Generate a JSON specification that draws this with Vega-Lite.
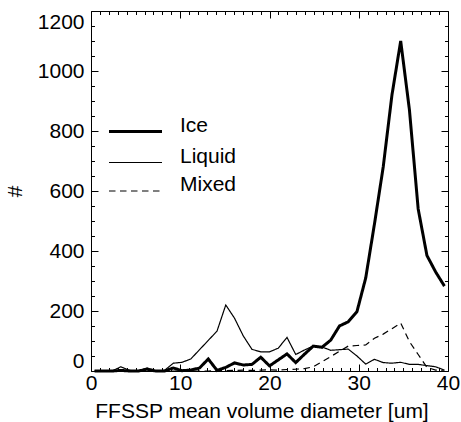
{
  "$schema": "https://vega.github.io/schema/vega-lite/v6.json",
  "width": 357,
  "height": 360,
  "autosize": {"type": "none"},
  "padding": {"left": 91, "top": 11, "right": 13, "bottom": 51},
  "background": "white",
  "config": {
    "view": {"stroke": null},
    "font": "Liberation Sans",
    "axis": {
      "grid": false,
      "domainColor": "black",
      "domainWidth": 1,
      "tickColor": "black",
      "tickWidth": 1,
      "labelColor": "black",
      "titleColor": "black",
      "labelFont": "Liberation Sans",
      "titleFont": "Liberation Sans",
      "labelFontSize": 21,
      "titleFontSize": 21,
      "titleFontWeight": "normal"
    }
  },
  "data": {
    "values": [
      {"x": 0.4, "v": 0, "type": "Ice"},
      {"x": 1.38, "v": 0, "type": "Ice"},
      {"x": 2.36, "v": 0, "type": "Ice"},
      {"x": 3.34, "v": 2, "type": "Ice"},
      {"x": 4.32, "v": 0, "type": "Ice"},
      {"x": 5.3, "v": 0, "type": "Ice"},
      {"x": 6.28, "v": 6, "type": "Ice"},
      {"x": 7.26, "v": 0, "type": "Ice"},
      {"x": 8.24, "v": 0, "type": "Ice"},
      {"x": 9.22, "v": 10, "type": "Ice"},
      {"x": 10.2, "v": 1, "type": "Ice"},
      {"x": 11.18, "v": 3, "type": "Ice"},
      {"x": 12.16, "v": 10, "type": "Ice"},
      {"x": 13.14, "v": 40, "type": "Ice"},
      {"x": 14.12, "v": 2, "type": "Ice"},
      {"x": 15.1, "v": 12, "type": "Ice"},
      {"x": 16.08, "v": 27, "type": "Ice"},
      {"x": 17.06, "v": 20, "type": "Ice"},
      {"x": 18.04, "v": 22, "type": "Ice"},
      {"x": 19.02, "v": 46, "type": "Ice"},
      {"x": 20.0, "v": 17, "type": "Ice"},
      {"x": 20.98, "v": 37, "type": "Ice"},
      {"x": 21.96, "v": 57, "type": "Ice"},
      {"x": 22.94, "v": 28, "type": "Ice"},
      {"x": 23.92, "v": 56, "type": "Ice"},
      {"x": 24.9, "v": 83, "type": "Ice"},
      {"x": 25.88, "v": 79, "type": "Ice"},
      {"x": 26.86, "v": 103, "type": "Ice"},
      {"x": 27.84, "v": 150, "type": "Ice"},
      {"x": 28.82, "v": 164, "type": "Ice"},
      {"x": 29.8, "v": 198, "type": "Ice"},
      {"x": 30.78, "v": 310, "type": "Ice"},
      {"x": 31.76, "v": 490, "type": "Ice"},
      {"x": 32.74, "v": 680, "type": "Ice"},
      {"x": 33.72, "v": 920, "type": "Ice"},
      {"x": 34.7, "v": 1100, "type": "Ice"},
      {"x": 35.68, "v": 870, "type": "Ice"},
      {"x": 36.66, "v": 540, "type": "Ice"},
      {"x": 37.64, "v": 385, "type": "Ice"},
      {"x": 38.62, "v": 330, "type": "Ice"},
      {"x": 39.6, "v": 283, "type": "Ice"},
      {"x": 0.4, "v": 0, "type": "Liquid"},
      {"x": 1.38, "v": 0, "type": "Liquid"},
      {"x": 2.36, "v": 0, "type": "Liquid"},
      {"x": 3.34, "v": 14, "type": "Liquid"},
      {"x": 4.32, "v": 2, "type": "Liquid"},
      {"x": 5.3, "v": 0, "type": "Liquid"},
      {"x": 6.28, "v": 10, "type": "Liquid"},
      {"x": 7.26, "v": 0, "type": "Liquid"},
      {"x": 8.24, "v": 2, "type": "Liquid"},
      {"x": 9.22, "v": 26, "type": "Liquid"},
      {"x": 10.2, "v": 29, "type": "Liquid"},
      {"x": 11.18, "v": 40, "type": "Liquid"},
      {"x": 12.16, "v": 71, "type": "Liquid"},
      {"x": 13.14, "v": 102, "type": "Liquid"},
      {"x": 14.12, "v": 133, "type": "Liquid"},
      {"x": 15.1, "v": 220, "type": "Liquid"},
      {"x": 16.08, "v": 176, "type": "Liquid"},
      {"x": 17.06, "v": 117, "type": "Liquid"},
      {"x": 18.04, "v": 72, "type": "Liquid"},
      {"x": 19.02, "v": 64, "type": "Liquid"},
      {"x": 20.0, "v": 64, "type": "Liquid"},
      {"x": 20.98, "v": 76, "type": "Liquid"},
      {"x": 21.96, "v": 112, "type": "Liquid"},
      {"x": 22.94, "v": 55, "type": "Liquid"},
      {"x": 23.92, "v": 70, "type": "Liquid"},
      {"x": 24.9, "v": 83, "type": "Liquid"},
      {"x": 25.88, "v": 80, "type": "Liquid"},
      {"x": 26.86, "v": 69, "type": "Liquid"},
      {"x": 27.84, "v": 71, "type": "Liquid"},
      {"x": 28.82, "v": 73, "type": "Liquid"},
      {"x": 29.8, "v": 50, "type": "Liquid"},
      {"x": 30.78, "v": 23, "type": "Liquid"},
      {"x": 31.76, "v": 39, "type": "Liquid"},
      {"x": 32.74, "v": 28, "type": "Liquid"},
      {"x": 33.72, "v": 26, "type": "Liquid"},
      {"x": 34.7, "v": 29, "type": "Liquid"},
      {"x": 35.68, "v": 22, "type": "Liquid"},
      {"x": 36.66, "v": 22, "type": "Liquid"},
      {"x": 37.64, "v": 18, "type": "Liquid"},
      {"x": 38.62, "v": 14, "type": "Liquid"},
      {"x": 39.6, "v": 3, "type": "Liquid"},
      {"x": 0.4, "v": 0, "type": "Mixed"},
      {"x": 1.38, "v": 0, "type": "Mixed"},
      {"x": 2.36, "v": 0, "type": "Mixed"},
      {"x": 3.34, "v": 0, "type": "Mixed"},
      {"x": 4.32, "v": 0, "type": "Mixed"},
      {"x": 5.3, "v": 0, "type": "Mixed"},
      {"x": 6.28, "v": 0, "type": "Mixed"},
      {"x": 7.26, "v": 0, "type": "Mixed"},
      {"x": 8.24, "v": 0, "type": "Mixed"},
      {"x": 9.22, "v": 0, "type": "Mixed"},
      {"x": 10.2, "v": 0, "type": "Mixed"},
      {"x": 11.18, "v": 0, "type": "Mixed"},
      {"x": 12.16, "v": 0, "type": "Mixed"},
      {"x": 13.14, "v": 0, "type": "Mixed"},
      {"x": 14.12, "v": 1, "type": "Mixed"},
      {"x": 15.1, "v": 1, "type": "Mixed"},
      {"x": 16.08, "v": 2, "type": "Mixed"},
      {"x": 17.06, "v": 3, "type": "Mixed"},
      {"x": 18.04, "v": 2, "type": "Mixed"},
      {"x": 19.02, "v": 3, "type": "Mixed"},
      {"x": 20.0, "v": 4, "type": "Mixed"},
      {"x": 20.98, "v": 3, "type": "Mixed"},
      {"x": 21.96, "v": 5, "type": "Mixed"},
      {"x": 22.94, "v": 6, "type": "Mixed"},
      {"x": 23.92, "v": 8, "type": "Mixed"},
      {"x": 24.9, "v": 14, "type": "Mixed"},
      {"x": 25.88, "v": 31, "type": "Mixed"},
      {"x": 26.86, "v": 48, "type": "Mixed"},
      {"x": 27.84, "v": 66, "type": "Mixed"},
      {"x": 28.82, "v": 83, "type": "Mixed"},
      {"x": 29.8, "v": 85, "type": "Mixed"},
      {"x": 30.78, "v": 87, "type": "Mixed"},
      {"x": 31.76, "v": 109, "type": "Mixed"},
      {"x": 32.74, "v": 123, "type": "Mixed"},
      {"x": 33.72, "v": 141, "type": "Mixed"},
      {"x": 34.7, "v": 160, "type": "Mixed"},
      {"x": 35.68, "v": 98, "type": "Mixed"},
      {"x": 36.66, "v": 55, "type": "Mixed"},
      {"x": 37.64, "v": 12, "type": "Mixed"},
      {"x": 38.62, "v": 3, "type": "Mixed"},
      {"x": 39.6, "v": 0, "type": "Mixed"}
    ]
  },
  "layer": [
    {
      "mark": {"type": "line", "color": "black", "strokeCap": "butt", "strokeJoin": "miter"},
      "encoding": {
        "x": {"field": "x", "type": "quantitative", "scale": {"domain": [0, 40], "nice": false, "zero": false},
          "axis": {"orient": "bottom", "values": [0, 10, 20, 30, 40], "format": "d", "ticks": false, "tickSize": 0, "labelPadding": 1, "domain": true, "labelFlush": false, "labelOverlap": false,
            "title": "FFSSP mean volume diameter [um]", "titleX": 170.5, "titleY": 46, "titleBaseline": "alphabetic", "titleAlign": "center"}},
        "y": {"field": "v", "type": "quantitative", "scale": {"domain": [0, 1200], "nice": false},
          "axis": {"orient": "left", "values": [0, 200, 400, 600, 800, 1000, 1200], "format": "d", "ticks": false, "tickSize": 0, "labelPadding": 7, "domain": true, "labelFlush": true, "labelOverlap": false,
            "title": "#", "titleX": -76, "titleY": 180, "titleAngle": -90, "titleBaseline": "middle", "titleAlign": "center"}},
        "strokeWidth": {"field": "type", "type": "nominal", "scale": {"type": "ordinal", "domain": ["Ice", "Liquid", "Mixed"], "range": [3, 1.2, 1.2]},
          "legend": {"title": null, "orient": "none", "legendX": 33, "legendY": 109, "symbolType": "M-2.65,0H2.65", "symbolSize": 400, "symbolStrokeColor": "black", "labelFont": "Liberation Sans", "labelFontSize": 21, "labelColor": "black", "labelOffset": 33, "rowPadding": 7.5, "padding": 0, "labelBaseline": "alphabetic"}},
        "strokeDash": {"field": "type", "type": "nominal", "scale": {"type": "ordinal", "domain": ["Ice", "Liquid", "Mixed"], "range": [[1, 0], [1, 0], [6.5, 4.5]]},
          "legend": {"title": null, "orient": "none", "legendX": 33, "legendY": 109, "symbolType": "M-2.65,0H2.65", "symbolSize": 400, "symbolStrokeColor": "black", "labelFont": "Liberation Sans", "labelFontSize": 21, "labelColor": "black", "labelOffset": 33, "rowPadding": 7.5, "padding": 0, "labelBaseline": "alphabetic"}}
      }
    },
    {
      "mark": {"type": "point", "opacity": 0},
      "encoding": {
        "x": {"field": "x", "type": "quantitative", "scale": {"domain": [0, 40], "nice": false, "zero": false},
          "axis": {"orient": "bottom", "values": [0, 10, 20, 30, 40], "labels": false, "domain": false, "ticks": true, "tickSize": -7, "title": null}},
        "y": {"field": "v", "type": "quantitative", "scale": {"domain": [0, 1200], "nice": false},
          "axis": {"orient": "left", "values": [0, 200, 400, 600, 800, 1000, 1200], "labels": false, "domain": false, "ticks": true, "tickSize": -7, "title": null}}
      }
    },
    {
      "mark": {"type": "point", "opacity": 0},
      "encoding": {
        "x": {"field": "x", "type": "quantitative", "scale": {"domain": [0, 40], "nice": false, "zero": false},
          "axis": {"orient": "bottom", "values": [1, 2, 3, 4, 5, 6, 7, 8, 9, 11, 12, 13, 14, 15, 16, 17, 18, 19, 21, 22, 23, 24, 25, 26, 27, 28, 29, 31, 32, 33, 34, 35, 36, 37, 38, 39], "labels": false, "domain": false, "ticks": true, "tickSize": -3.5, "title": null}},
        "y": {"field": "v", "type": "quantitative", "scale": {"domain": [0, 1200], "nice": false},
          "axis": {"orient": "left", "values": [50, 100, 150, 250, 300, 350, 450, 500, 550, 650, 700, 750, 850, 900, 950, 1050, 1100, 1150], "labels": false, "domain": false, "ticks": true, "tickSize": -3.5, "title": null}}
      }
    },
    {
      "mark": {"type": "point", "opacity": 0},
      "encoding": {
        "x": {"field": "x", "type": "quantitative", "scale": {"domain": [0, 40], "nice": false, "zero": false},
          "axis": {"orient": "top", "values": [0, 10, 20, 30, 40], "labels": false, "domain": true, "ticks": true, "tickSize": -7, "title": null}},
        "y": {"field": "v", "type": "quantitative", "scale": {"domain": [0, 1200], "nice": false},
          "axis": {"orient": "right", "values": [0, 200, 400, 600, 800, 1000, 1200], "labels": false, "domain": true, "ticks": true, "tickSize": -7, "title": null}}
      }
    },
    {
      "mark": {"type": "point", "opacity": 0},
      "encoding": {
        "x": {"field": "x", "type": "quantitative", "scale": {"domain": [0, 40], "nice": false, "zero": false},
          "axis": {"orient": "top", "values": [1, 2, 3, 4, 5, 6, 7, 8, 9, 11, 12, 13, 14, 15, 16, 17, 18, 19, 21, 22, 23, 24, 25, 26, 27, 28, 29, 31, 32, 33, 34, 35, 36, 37, 38, 39], "labels": false, "domain": false, "ticks": true, "tickSize": -3.5, "title": null}},
        "y": {"field": "v", "type": "quantitative", "scale": {"domain": [0, 1200], "nice": false},
          "axis": {"orient": "right", "values": [50, 100, 150, 250, 300, 350, 450, 500, 550, 650, 700, 750, 850, 900, 950, 1050, 1100, 1150], "labels": false, "domain": false, "ticks": true, "tickSize": -3.5, "title": null}}
      }
    }
  ],
  "resolve": {"axis": {"x": "independent", "y": "independent"}}
}
